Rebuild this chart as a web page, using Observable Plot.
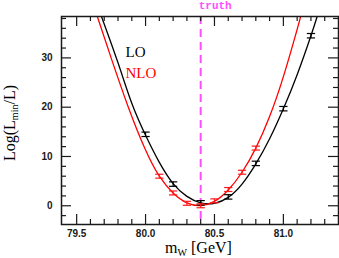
<!DOCTYPE html>
<html><head><meta charset="utf-8">
<script src="https://cdn.jsdelivr.net/npm/d3@7"></script>
<script src="https://cdn.jsdelivr.net/npm/@observablehq/plot@0.6"></script>
<style>
html,body{margin:0;padding:0;background:#fff;}
#chart{width:339px;height:258px;}
</style></head><body><div id="chart"></div>
<script>
// ---- data ----
const truthMW = 80.4;

const loX   = [80.0, 80.2, 80.4, 80.6, 80.8, 81.0, 81.2];
const loY   = [14.5, 4.4, 0.6, 1.8, 8.6, 19.7, 34.5];
const loErr = [0.45, 0.45, 0.45, 0.45, 0.45, 0.45, 0.45];

const nloX   = [80.1, 80.2, 80.3, 80.4, 80.5, 80.6, 80.7, 80.8];
const nloY   = [6.0, 2.6, 0.5, 0.0, 1.0, 3.3, 6.8, 11.7];
const nloErr = [0.4, 0.4, 0.4, 0.4, 0.4, 0.4, 0.4, 0.4];

// fitted curves
const loCurveX = [79.68, 79.8, 79.9, 80.0, 80.1, 80.2, 80.3, 80.4, 80.5, 80.6, 80.7, 80.8, 80.9, 81.0, 81.1, 81.2, 81.245];
const loCurveY = [38.4, 29.0, 20.8, 14.3, 8.8, 4.5, 1.9, 0.6, 0.5, 1.7, 4.4, 8.5, 13.6, 19.7, 26.6, 34.5, 38.4];

const nloCurveX = [79.65, 79.75, 79.875, 80.0, 80.1, 80.2, 80.3, 80.4, 80.5, 80.6, 80.7, 80.8, 80.9, 81.0, 81.1, 81.13];
const nloCurveY = [38.4, 30.0, 20.0, 11.3, 6.0, 2.6, 0.6, 0.05, 0.9, 3.2, 6.8, 11.7, 18.1, 26.2, 35.8, 38.9];

const xMajor = [79.5, 80.0, 80.5, 81.0];
const xMinor = [79.6, 79.7, 79.8, 79.9, 80.1, 80.2, 80.3, 80.4, 80.6, 80.7, 80.8, 80.9, 81.1, 81.2, 81.3];
const yMajor = [0, 10, 20, 30];
const yMinor = [-2, 2, 4, 6, 8, 12, 14, 16, 18, 22, 24, 26, 28, 32, 34, 36, 38];

const seriesNames = ["LO", "NLO"];

// ---- layout ----
const W = 339, H = 258, mL = 61, mR = 1, mT = 16, mB = 34;
const plotW = W - mL - mR, plotH = H - mT - mB;
const majLen = 10, minLen = 5;
const capHalf = 0.03;
const ink = "#1a1a1a";
const magenta = "#ff4dff";

const lo = loX.map((x, i) => ({x, y: loY[i], e: loErr[i]}));
const nlo = nloX.map((x, i) => ({x, y: nloY[i], e: nloErr[i]}));
const loCurve = loCurveX.map((x, i) => ({x, y: loCurveY[i]}));
const nloCurve = nloCurveX.map((x, i) => ({x, y: nloCurveY[i]}));

function errMarks(data, color) {
  return [
    Plot.link(data, {x1: "x", x2: "x", y1: d => d.y - d.e, y2: d => d.y + d.e, stroke: color, strokeWidth: 1.2, clip: true}),
    Plot.link(data, {x1: d => d.x - capHalf, x2: d => d.x + capHalf, y1: d => d.y - d.e, y2: d => d.y - d.e, stroke: color, strokeWidth: 1.2, clip: true}),
    Plot.link(data, {x1: d => d.x - capHalf, x2: d => d.x + capHalf, y1: d => d.y + d.e, y2: d => d.y + d.e, stroke: color, strokeWidth: 1.2, clip: true})
  ];
}

const tickStyle = {stroke: ink, strokeWidth: 1.2};

const chart = Plot.plot({
  width: W, height: H,
  marginLeft: mL, marginRight: mR, marginTop: mT, marginBottom: mB,
  x: {domain: [79.39, 81.4]},
  y: {domain: [-3.8, 38.4]},
  style: {background: "white", overflow: "visible"},
  marks: [
    Plot.ruleX([truthMW], {x: d => d, stroke: magenta, strokeWidth: 2, strokeDasharray: "8,5"}),
    Plot.line(loCurve, {x: "x", y: "y", stroke: "#000", strokeWidth: 1.3, curve: "natural", clip: true}),
    Plot.line(nloCurve, {x: "x", y: "y", stroke: "#ff0000", strokeWidth: 1.3, curve: "natural", clip: true}),
    ...errMarks(lo, "#000"),
    ...errMarks(nlo, "#ff1a1a"),
    Plot.frame({stroke: ink, strokeWidth: 1.5}),
    // inward ticks on all four sides
    Plot.tickX(xMajor, {x: d => d, insetTop: plotH - majLen, ...tickStyle}),
    Plot.tickX(xMajor, {x: d => d, insetBottom: plotH - majLen, ...tickStyle}),
    Plot.tickX(xMinor, {x: d => d, insetTop: plotH - minLen, ...tickStyle}),
    Plot.tickX(xMinor, {x: d => d, insetBottom: plotH - minLen, ...tickStyle}),
    Plot.tickY(yMajor, {y: d => d, insetRight: plotW - majLen, ...tickStyle}),
    Plot.tickY(yMajor, {y: d => d, insetLeft: plotW - majLen, ...tickStyle}),
    Plot.tickY(yMinor, {y: d => d, insetRight: plotW - minLen, ...tickStyle}),
    Plot.tickY(yMinor, {y: d => d, insetLeft: plotW - minLen, ...tickStyle}),
    Plot.axisX(xMajor, {tickSize: 0, tickPadding: 5, tickFormat: d3.format(".1f"), label: null,
      fontSize: 10, fontWeight: "bold", fontFamily: "Liberation Sans", fill: ink}),
    Plot.axisY(yMajor, {tickSize: 0, tickPadding: 9, tickFormat: d3.format("d"), label: null,
      fontSize: 10, fontWeight: "bold", fontFamily: "Liberation Sans", fill: ink}),
    Plot.text([truthMW], {x: d => d, text: () => "truth", frameAnchor: "top", dy: -11, dx: -2,
      textAnchor: "start", lineAnchor: "middle", fill: magenta, fontSize: 11, fontFamily: "Liberation Mono", fontWeight: "bold"}),
    Plot.text([seriesNames[0]], {text: d => d, frameAnchor: "top-left", dx: 64, dy: 36, textAnchor: "start",
      lineAnchor: "middle", fill: "#000", fontSize: 15, fontFamily: "Liberation Serif"}),
    Plot.text([seriesNames[1]], {text: d => d, frameAnchor: "top-left", dx: 64, dy: 57, textAnchor: "start",
      lineAnchor: "middle", fill: "#ff0000", fontSize: 15, fontFamily: "Liberation Serif"})
  ]
});

const svg = d3.select(chart);
// x-axis title: m_W [GeV]
const xt = svg.append("text")
  .attr("x", mL + plotW / 2 - 1).attr("y", 253)
  .attr("text-anchor", "middle")
  .attr("font-family", "Liberation Serif").attr("font-size", 16).attr("fill", "#000");
xt.append("tspan").text("m");
xt.append("tspan").attr("font-size", 10).attr("dy", 3).text("W");
xt.append("tspan").attr("dy", -3).text(" [GeV]");

// y-axis title: Log(L_min/L)
const yt = svg.append("text")
  .attr("transform", `translate(15,${mT + plotH / 2 + 3}) rotate(-90)`)
  .attr("text-anchor", "middle")
  .attr("font-family", "Liberation Serif").attr("font-size", 16).attr("fill", "#000");
yt.append("tspan").text("Log(L");
yt.append("tspan").attr("font-size", 10).attr("dy", 3).text("min");
yt.append("tspan").attr("dy", -3).text("/L)");

document.getElementById("chart").appendChild(chart);
</script>
</body></html>
